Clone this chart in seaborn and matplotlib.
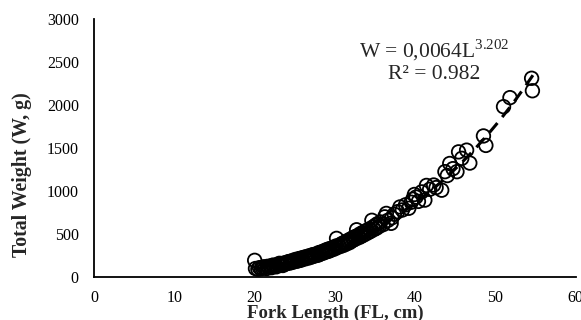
import numpy as np
import pandas as pd
import matplotlib
matplotlib.use("Agg")
import matplotlib.pyplot as plt
import seaborn as sns

fork_length = [20.0, 20.1, 20.4, 20.6, 20.8, 21.0, 21.1, 21.3, 21.5, 21.6, 21.8, 22.0, 22.1, 22.3, 22.4,
               22.6, 22.7, 22.9, 23.0, 23.1, 23.3, 23.4, 23.5, 23.7, 23.8, 24.0, 24.1, 24.2, 24.4, 24.5,
               24.6, 24.8, 24.9, 25.0, 25.1, 25.3, 25.4, 25.5, 25.7, 25.8, 25.9, 26.0, 26.2, 26.3, 26.4,
               26.6, 26.7, 26.8, 27.0, 27.1, 27.2, 27.4, 27.5, 27.6, 27.8, 27.9, 28.0, 28.1, 28.3, 28.4,
               28.5, 28.7, 28.8, 28.9, 29.0, 29.2, 29.3, 29.4, 29.6, 29.7, 29.8, 30.0, 30.1, 30.2, 30.3,
               30.5, 30.6, 30.8, 30.9, 31.0, 31.2, 31.3, 31.5, 31.6, 31.8, 31.9, 32.0, 32.2, 32.3, 32.5,
               32.6, 32.7, 32.8, 33.0, 33.1, 33.3, 33.4, 33.6, 33.7, 33.9, 34.0, 34.2, 34.3, 34.5, 34.6,
               34.7, 34.9, 35.0, 35.2, 35.3, 35.5, 35.7, 36.0, 36.2, 36.4, 36.6, 37.0, 37.1, 37.4, 37.8,
               38.1, 38.4, 38.8, 39.2, 39.5, 39.7, 39.9, 40.1, 40.4, 40.8, 41.2, 41.4, 41.8, 42.3, 42.6,
               43.3, 43.7, 44.0, 44.3, 44.7, 45.2, 45.4, 45.8, 46.4, 46.8, 48.5, 48.8, 51.0, 51.8, 54.5,
               54.6]
total_weight = [195, 100, 92, 110, 98, 105, 120, 112, 100, 125, 118, 130, 110, 140, 125,
                135, 120, 150, 140, 160, 145, 155, 135, 165, 150, 170, 160, 180, 165, 185,
                170, 195, 178, 190, 205, 185, 200, 215, 195, 210, 225, 205, 220, 235, 215,
                230, 245, 225, 250, 235, 260, 245, 265, 250, 270, 255, 285, 265, 290, 275,
                300, 285, 310, 295, 320, 300, 330, 310, 335, 320, 345, 330, 360, 450, 345,
                370, 355, 385, 365, 395, 375, 410, 390, 425, 400, 440, 415, 455, 430, 470,
                445, 550, 480, 460, 500, 475, 515, 490, 530, 505, 545, 520, 560, 535, 660,
                580, 555, 600, 570, 620, 590, 640, 610, 700, 740, 660, 625, 690, 730, 760,
                815, 780, 840, 800, 870, 905, 960, 930, 880, 990, 895, 1065, 1020, 1070, 1040,
                1010, 1225, 1180, 1320, 1260, 1225, 1455, 1380, 1475, 1325, 1640, 1530, 1980, 2085, 2310,
                2165]

fit_a = 0.0064
fit_b = 3.202
fit_range = [20.0, 55.0]
x_ticks = [0, 10, 20, 30, 40, 50, 60]
y_ticks = [0, 500, 1000, 1500, 2000, 2500, 3000]

sns.set_style("white")
plt.rcParams['font.family'] = ['Liberation Serif', 'DejaVu Serif']
plt.rcParams['mathtext.fontset'] = 'custom'
plt.rcParams['mathtext.rm'] = 'Liberation Serif'

df = pd.DataFrame({"FL": fork_length, "W": total_weight})

fig = plt.figure(figsize=(5.81, 3.20), dpi=100)
ax = fig.add_axes([0.162, 0.134, 0.829, 0.807])

sns.scatterplot(data=df, x="FL", y="W", ax=ax, s=95, facecolor="none",
                edgecolor="black", linewidth=1.3, marker="o", clip_on=False)

xf = np.linspace(fit_range[0], fit_range[1], 200)
yf = fit_a * xf ** fit_b
ax.plot(xf, yf, color="black", lw=2.2, ls=(0, (4, 2.5)))

ax.set_xlim(0, 60)
ax.set_ylim(0, 3000)
ax.set_xticks(x_ticks)
ax.set_yticks(y_ticks)
ax.tick_params(axis='both', length=0, labelsize=11.5, colors="black")
ax.tick_params(axis='y', pad=11)
ax.tick_params(axis='x', pad=9.5)
for s in ["top", "right"]:
    ax.spines[s].set_visible(False)
for s in ["left", "bottom"]:
    ax.spines[s].set_color("black")
    ax.spines[s].set_linewidth(1.3)

ax.set_xlabel("Fork Length (FL, cm)", fontsize=13.5, fontweight="bold", labelpad=-1)
ax.set_ylabel("Total Weight (W, g)", fontsize=14.3, fontweight="bold")
ax.yaxis.set_label_coords(-0.129, 0.395)

ax.text(0.707, 0.88, r"W = 0,0064L$^{\mathrm{3.202}}$", transform=ax.transAxes,
        ha="center", va="center", fontsize=15.5)
ax.text(0.705, 0.783, "R² = 0.982", transform=ax.transAxes,
        ha="center", va="center", fontsize=15.5)

fig.savefig("out.png", dpi=100)
